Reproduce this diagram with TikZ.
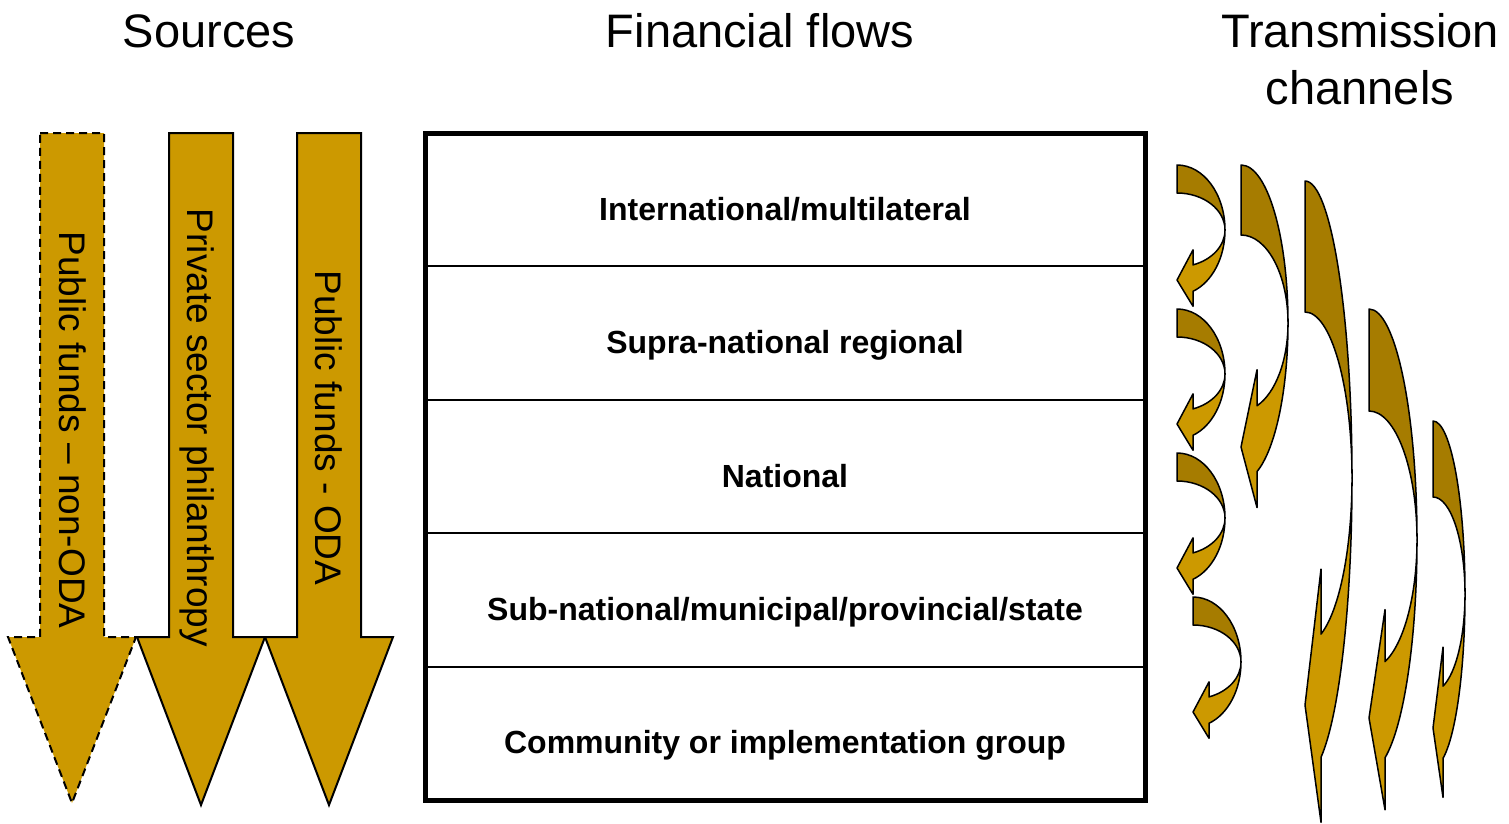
\documentclass[tikz,border=0pt]{standalone}
\usepackage{fontspec}
\setmainfont{Liberation Sans}
\usetikzlibrary{positioning}

\definecolor{goldfill}{RGB}{204,153,0}
\definecolor{goldback}{RGB}{166,124,0}

\tikzset{
  srcarrow/.style={draw=black, line width=2pt, fill=goldfill},
  frontpart/.style={draw=black, line width=1.5pt, fill=goldfill, line join=round},
  backpart/.style={draw=black, line width=1.5pt, fill=goldback, line join=round},
  flowrow/.style={draw=black, line width=2pt, outer sep=0pt, inner sep=0pt,
    minimum width=720pt, minimum height=133.4pt, text height=41pt, text depth=0pt,
    font=\fontsize{32}{36}\selectfont\bfseries},
  heading/.style={anchor=base, inner sep=0pt, font=\fontsize{47}{57}\selectfont},
  srclabel/.style={anchor=base, rotate=-90, inner sep=0pt, font=\fontsize{37}{44}\selectfont}
}

% bent arrow: left, top, width, head x, half height, band, barb, tip y
\newcommand{\bendarrow}[8]{%
  \pgfmathsetmacro{\barang}{acos(#4/#3)}
  \pgfmathsetmacro{\barri}{#5-#6}
  \pgfmathsetmacro{\baryo}{#2+#5+#5*sin(\barang)}
  \pgfmathsetmacro{\baryi}{#2+#5+\barri*sin(\barang)}
  \draw[backpart] (#1,#2) arc[start angle=90, end angle=0, x radius=#3pt, y radius=#5pt]
    arc[start angle=0, end angle=90, x radius=#3pt, y radius=\barri pt] -- cycle;
  \draw[frontpart] (#1+#3,#2+#5) arc[start angle=0, end angle=-\barang, x radius=#3pt, y radius=#5pt]
    -- (#1+#4,\baryo+#7) -- (#1,#2+#8) -- (#1+#4,\baryi-#7) -- (#1+#4,\baryi)
    arc[start angle=-\barang, end angle=0, x radius=#3pt, y radius=\barri pt] -- cycle;
}

\begin{document}
\begin{tikzpicture}[x=1pt,y=-1pt]
\useasboundingbox (0,0) rectangle (1509,823);

% headings
\node[heading] (sources) at (209,47) {Sources};
\node[heading] (flows) at (760,47) {Financial flows};
\node[heading] (trans) at (1360,47) {Transmission};
\node[heading] (chan) at (1360,104) {channels};

% sources
\draw[srcarrow, dash pattern=on 8pt off 5pt] (40,133) -- (104,133) -- (104,637) -- (136,637) -- (72,803) -- (8,637) -- (40,637) -- cycle;
\draw[srcarrow] (169,133) -- (233,133) -- (233,637) -- (265,637) -- (201,805) -- (137,637) -- (169,637) -- cycle;
\draw[srcarrow] (297,133) -- (361,133) -- (361,637) -- (393,637) -- (329,805) -- (265,637) -- (297,637) -- cycle;
\node[srclabel] (nonoda) at (59,430) {Public funds – non-ODA};
\node[srclabel] (private) at (187,428) {Private sector philanthropy};
\node[srclabel] (oda) at (315,428) {Public funds - ODA};

% financial flows
\node[flowrow] (intl) at (785,199.7) {International/multilateral};
\node[flowrow, below=0pt of intl] (supra) {Supra-national regional};
\node[flowrow, below=0pt of supra] (natl) {National};
\node[flowrow, below=0pt of natl] (subnatl) {Sub-national/municipal/provincial/state};
\node[flowrow, below=0pt of subnatl] (comm) {Community or implementation group};
\draw[line width=5pt] (intl.north west) rectangle (comm.south east);

% transmission channels
\bendarrow{1177}{165}{48}{16}{65}{28}{15}{115}
\bendarrow{1177}{309}{48}{16}{65}{28}{15}{115}
\bendarrow{1177}{453}{48}{16}{65}{28}{15}{115}
\bendarrow{1193}{597}{48}{16}{65}{28}{15}{115}
\bendarrow{1241}{165}{47}{16}{158}{70}{36}{282}
\bendarrow{1305}{181}{47}{16}{297}{131}{65}{524}
\bendarrow{1369}{309}{48}{16}{231}{102}{52}{409}
\bendarrow{1433}{421}{32}{10}{173}{76}{39}{307}
\end{tikzpicture}
\end{document}
